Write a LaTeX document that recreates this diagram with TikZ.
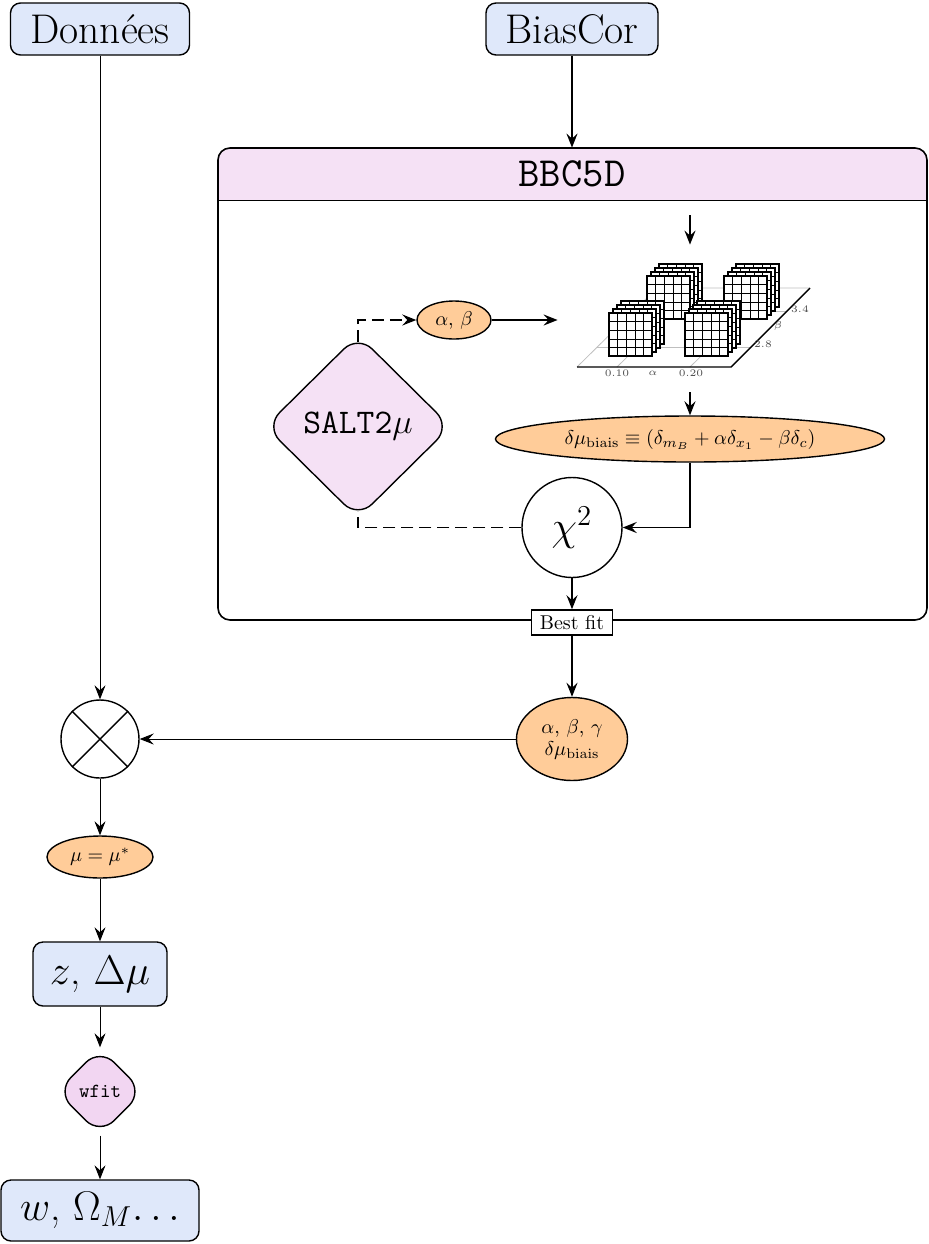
\documentclass[tikz,border=0pt]{standalone}
\usetikzlibrary{arrows.meta,shapes.geometric}
\definecolor{boxblue}{RGB}{223,232,250}
\definecolor{pinkfill}{RGB}{245,225,245}
\definecolor{wfitpink}{RGB}{242,214,242}
\definecolor{orangefill}{RGB}{255,204,153}
\newcommand\gridlayer[2]{%
  \filldraw[fill=white,draw=black,line width=0.6pt] (#1,#2) rectangle ++(43,43);
  \foreach \k in {1,...,4}{%
    \draw[line width=0.3pt] (#1,#2) ++(8.6*\k,0) -- ++(0,43);
    \draw[line width=0.3pt] (#1,#2) ++(0,8.6*\k) -- ++(43,0);
  }%
}
\newcommand\gridstack[2]{%
  \foreach \i in {3,2,1,0}{\gridlayer{#1+4*\i}{#2-4*\i}}%
}
\begin{document}
\begin{tikzpicture}[x=0.5pt,y=-0.5pt,
  tip/.style={-{Stealth[length=7pt,width=5.5pt,inset=2.5pt]}},
  bluebox/.style={draw,line width=0.7pt,rounded corners=5pt,fill=boxblue,inner sep=0pt},
  orell/.style={draw,line width=0.7pt,ellipse,fill=orangefill,inner sep=0pt},
  rdiam/.style={draw,line width=0.7pt,diamond,rounded corners=10pt,inner sep=0pt},
  dsh/.style={line width=0.9pt,dash pattern=on 6pt off 3pt},
  thickline/.style={line width=0.9pt},
  thinline/.style={line width=0.45pt}]
\useasboundingbox (0,0) rectangle (928,1244);

% top boxes
\node[bluebox,minimum width=89.5pt,minimum height=26pt] (donnees) at (100,29) {\huge Données};
\node[bluebox,minimum width=86pt,minimum height=26pt] (biascor) at (572,29) {\huge BiasCor};

% BBC5D frame
\begin{scope}
  \clip (218,148) rectangle (927,200);
  \fill[pinkfill,rounded corners=6pt] (218,148) rectangle (927,620);
\end{scope}
\node[draw,line width=0.8pt,rounded corners=6pt,minimum width=354.5pt,minimum height=236pt,inner sep=0pt] (frame) at (572.5,384) {};
\node[minimum width=354.5pt,minimum height=26pt,inner sep=0pt] (bbc) at (572,174) {\huge\ttfamily BBC5D};
\draw[line width=0.8pt] (frame.west |- bbc.south) -- (frame.east |- bbc.south);

% grid picture
\node[minimum width=132pt,minimum height=73.5pt,inner sep=0pt] (gridimg) at (690,318.5) {};
\begin{scope}
  \draw[black!25,thin] (577,367) -- (657,288) -- (810,288);
  \draw[black!25,thin] (617,367) -- (697,288);
  \draw[black!25,thin] (690,367) -- (770,288);
  \draw[black!25,thin] (597,347) -- (751,347);
  \draw[black!25,thin] (633,311) -- (787,311);
  \draw[line width=0.7pt] (577,367) -- (731,367) -- (810,288);
  \gridstack{647}{276}
  \gridstack{724}{276}
  \gridstack{609}{313}
  \gridstack{685}{313}
  \node[font=\tiny,text=black!70] at (617,373) {0.10};
  \node[font=\tiny,text=black!70] at (653,373) {$\alpha$};
  \node[font=\tiny,text=black!70] at (691,373) {0.20};
  \node[font=\tiny,text=black!70] at (763,344) {2.8};
  \node[font=\tiny,text=black!70] at (778,326) {$\beta$};
  \node[font=\tiny,text=black!70] at (800,309) {3.4};
\end{scope}

% nodes in frame
\node[orell,minimum width=37pt,minimum height=19pt] (ab) at (454,320) {$\alpha$, $\beta$};
\node[orell,minimum width=194.5pt,minimum height=23pt] (dmu) at (690,439) {$\delta\mu_{\mathrm{biais}}\equiv(\delta_{m_B}+\alpha\delta_{x_1}-\beta\delta_c)$};
\node[draw,line width=0.7pt,circle,minimum size=50pt,inner sep=0pt,fill=white] (chi) at (572,527.5) {\huge$\chi^2$};
\node[rdiam,fill=pinkfill,minimum width=92.8pt,minimum height=91.8pt] (salt) at (358,426.5) {\LARGE\ttfamily SALT2$\mu$};
\node[draw,line width=0.8pt,fill=white,minimum width=40.5pt,minimum height=12.5pt,inner sep=0pt] (best) at (572,622.5) {Best fit};

% lower nodes
\node[orell,minimum width=55.5pt,minimum height=41.5pt,align=center] (abg) at (572,739) {$\alpha$, $\beta$, $\gamma$\\[-1pt]$\delta\mu_{\mathrm{biais}}$};
\node[draw,line width=0.7pt,circle,minimum size=39pt,inner sep=0pt] (ox) at (100,739) {};
\draw[line width=0.7pt] (ox.45) -- (ox.225) (ox.135) -- (ox.-45);
\node[orell,minimum width=53pt,minimum height=21pt] (mus) at (100,857) {$\mu=\mu^*$};
\node[bluebox,minimum width=67pt,minimum height=32pt] (zdm) at (100,974) {\huge$z$, $\Delta\mu$};
\node[rdiam,fill=wfitpink,minimum width=43.5pt,minimum height=43.5pt] (wfit) at (100,1091.5) {\ttfamily wfit};
\node[bluebox,minimum width=99pt,minimum height=30.5pt] (fin) at (100,1210.5) {\huge$w$, $\Omega_M\!\dots$};

% connectors
\draw[thickline,tip] (biascor) -- (bbc);
\coordinate (gtop) at (690,215);
\draw[thickline,tip] (gtop) -- (gridimg.north);
\draw[thickline,tip] (ab.east) -- (ab.east -| gridimg.west);
\draw[thickline,tip] (gridimg.south) -- (dmu.north);
\draw[thickline,tip] (dmu.south) |- (chi.east);
\draw[dsh] (chi.west) -| ([yshift=4.1pt]salt.south);
\draw[dsh,-{Stealth[length=7pt,width=5.5pt,inset=2.5pt]}] ([yshift=-4.1pt]salt.north) |- (ab.west);
\draw[thickline,tip] (chi.south) -- (best.north);
\draw[thickline,tip] (best.south) -- (abg.north);
\draw[thinline,tip] (abg.west) -- (ox.east);
\draw[thinline,tip] (donnees.south) -- (ox.north);
\draw[thinline,tip] (ox.south) -- (mus.north);
\draw[thinline,tip] (mus.south) -- (zdm.north);
\draw[thinline,tip] (zdm.south) -- (wfit.north);
\draw[thinline,tip] (wfit.south) -- (fin.north);
\end{tikzpicture}
\end{document}
